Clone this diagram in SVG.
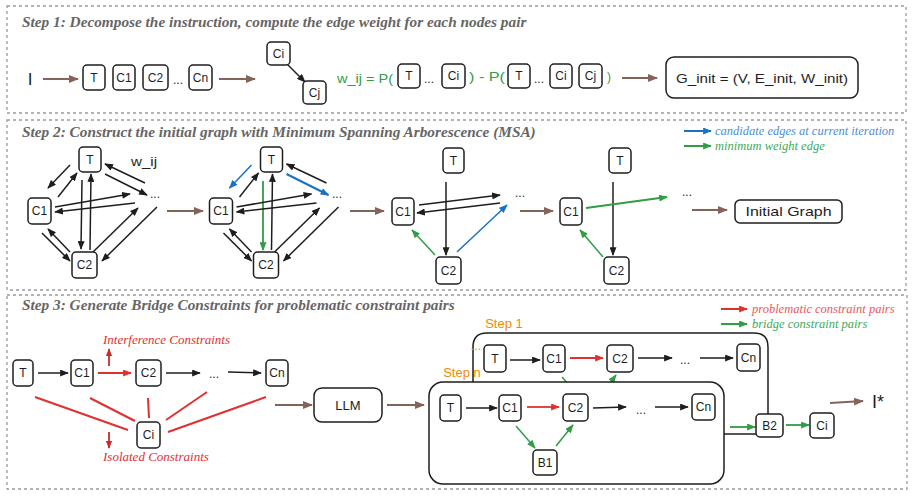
<svg xmlns="http://www.w3.org/2000/svg" width="914" height="498" viewBox="0 0 914 498">
<style>
.panel{fill:none;stroke:#9a9a9a;stroke-width:1.3;stroke-dasharray:3 3}
.title{font-family:"Liberation Serif",serif;font-weight:bold;font-style:italic;font-size:15.3px;fill:#666}
.n{fill:#fff;stroke:#1e1e1e;stroke-width:1.5}
.t{font-family:"Liberation Sans",sans-serif;font-size:12px;text-anchor:middle;dominant-baseline:central;fill:#1e1e1e}
.g{fill:#2f9e44}
.leg{font-family:"Liberation Serif",serif;font-style:italic;font-size:12.5px}
.or{font-family:"Liberation Sans",sans-serif;font-size:13px;fill:#f08c00}
.k{stroke:#1e1e1e;stroke-width:1.5;fill:none;marker-end:url(#mk)}
.br{stroke:#846358;stroke-width:2;fill:none;marker-end:url(#mbr)}
.gr{stroke:#2f9e44;stroke-width:1.5;fill:none;marker-end:url(#mgr)}
.bl{stroke:#1971c2;stroke-width:1.5;fill:none;marker-end:url(#mbl)}
.rd{stroke:#e03131;stroke-width:1.8;fill:none;marker-end:url(#mrd)}
.dr{stroke:#c92a2a;stroke-width:1.8;fill:none;marker-end:url(#mdr)}
.rl{stroke:#e03131;stroke-width:2;fill:none}
</style>
<defs>
<marker id="mk" viewBox="0 0 10 8" refX="9" refY="4" markerWidth="9" markerHeight="7" orient="auto" markerUnits="userSpaceOnUse"><path d="M0,0 L10,4 L0,8 z" fill="#1e1e1e"/></marker>
<marker id="mbr" viewBox="0 0 10 8" refX="9" refY="4" markerWidth="10" markerHeight="8" orient="auto" markerUnits="userSpaceOnUse"><path d="M0,0 L10,4 L0,8 z" fill="#846358"/></marker>
<marker id="mgr" viewBox="0 0 10 8" refX="9" refY="4" markerWidth="9" markerHeight="7" orient="auto" markerUnits="userSpaceOnUse"><path d="M0,0 L10,4 L0,8 z" fill="#2f9e44"/></marker>
<marker id="mbl" viewBox="0 0 10 8" refX="9" refY="4" markerWidth="9" markerHeight="7" orient="auto" markerUnits="userSpaceOnUse"><path d="M0,0 L10,4 L0,8 z" fill="#1971c2"/></marker>
<marker id="mrd" viewBox="0 0 10 8" refX="9" refY="4" markerWidth="9" markerHeight="7" orient="auto" markerUnits="userSpaceOnUse"><path d="M0,0 L10,4 L0,8 z" fill="#e03131"/></marker>
<marker id="mdr" viewBox="0 0 10 8" refX="9" refY="4" markerWidth="8" markerHeight="7" orient="auto" markerUnits="userSpaceOnUse"><path d="M0,0 L10,4 L0,8 z" fill="#c92a2a"/></marker>
</defs>
<rect width="914" height="498" fill="#fff"/>

<!-- panels -->
<rect class="panel" x="7" y="6" width="899" height="107"/>
<rect class="panel" x="7" y="120" width="899" height="170"/>
<rect class="panel" x="7" y="295" width="900" height="194"/>
<text class="title" x="22" y="27">Step 1: Decompose the instruction, compute the edge weight for each nodes pair</text>
<text class="title" x="22" y="137">Step 2: Construct the initial graph with Minimum Spanning Arborescence (MSA)</text>
<text class="title" x="22" y="310">Step 3: Generate Bridge Constraints for problematic constraint pairs</text>

<!-- connectors -->
<g id="connectors">
<!-- step 1 -->
<line class="br" x1="43" y1="79" x2="78" y2="79"/>
<line class="br" x1="219" y1="79" x2="255" y2="79"/>
<line class="br" x1="622" y1="78" x2="657" y2="78"/>
<line class="k" x1="287" y1="64" x2="305" y2="82"/>
<!-- step 2 graph 1 -->
<line class="k" x1="70" y1="165" x2="48" y2="188"/>
<line class="k" x1="58" y1="197" x2="77" y2="173"/>
<line class="k" x1="82" y1="180" x2="81" y2="249"/>
<line class="k" x1="90" y1="250" x2="91" y2="174"/>
<line class="k" x1="145" y1="183" x2="105" y2="164"/>
<line class="k" x1="105" y1="174" x2="147" y2="195"/>
<line class="k" x1="55" y1="207" x2="130" y2="194"/>
<line class="k" x1="135" y1="203" x2="55" y2="212"/>
<line class="k" x1="42" y1="233" x2="70" y2="261"/>
<line class="k" x1="70" y1="252" x2="48" y2="229"/>
<line class="k" x1="93" y1="252" x2="138" y2="208"/>
<line class="k" x1="157" y1="207" x2="102" y2="261"/>
<line class="br" x1="167" y1="211" x2="203" y2="211"/>
<!-- graph 2 -->
<line class="bl" x1="251.5" y1="165" x2="229.5" y2="188"/>
<line class="k" x1="239.5" y1="197" x2="258.5" y2="173"/>
<line class="gr" x1="263" y1="181" x2="263" y2="250" style="stroke-width:1.8"/>
<line class="k" x1="271.5" y1="250" x2="272.5" y2="174"/>
<line class="k" x1="326.5" y1="183" x2="286.5" y2="164"/>
<line class="bl" x1="286.5" y1="174" x2="328.5" y2="195" style="stroke-width:2"/>
<line class="k" x1="236.5" y1="207" x2="311.5" y2="194"/>
<line class="k" x1="316.5" y1="203" x2="236.5" y2="212"/>
<line class="k" x1="223.5" y1="233" x2="251.5" y2="261"/>
<line class="k" x1="251.5" y1="252" x2="229.5" y2="229"/>
<line class="k" x1="274.5" y1="252" x2="319.5" y2="208"/>
<line class="k" x1="338.5" y1="207" x2="283.5" y2="261"/>
<line class="br" x1="350" y1="211" x2="384" y2="211"/>
<!-- graph 3 -->
<line class="k" x1="446" y1="182" x2="446" y2="255"/>
<line class="k" x1="419" y1="205" x2="500" y2="195"/>
<line class="k" x1="500" y1="203" x2="417" y2="213"/>
<line class="gr" x1="435" y1="255" x2="412" y2="230"/>
<line class="bl" x1="457" y1="252" x2="507" y2="205"/>
<line class="br" x1="520" y1="211" x2="553" y2="211"/>
<!-- graph 4 -->
<line class="k" x1="613" y1="182" x2="613" y2="255"/>
<line class="gr" x1="603" y1="257" x2="580" y2="230"/>
<line class="gr" x1="586" y1="208" x2="667" y2="197" style="stroke-width:2.2"/>
<line class="br" x1="692" y1="210" x2="727" y2="210"/>
<!-- step 2 legend -->
<line class="bl" x1="684" y1="131" x2="711" y2="131" style="stroke-width:2"/>
<line class="gr" x1="684" y1="146" x2="711" y2="146" style="stroke-width:2"/>
<!-- step 3 left -->
<line class="k" x1="38" y1="373" x2="68" y2="373"/>
<line class="rd" x1="98" y1="373" x2="131" y2="373"/>
<line class="k" x1="166" y1="373" x2="200" y2="373"/>
<line class="k" x1="228" y1="372" x2="261" y2="373"/>
<line class="dr" x1="109" y1="366" x2="109" y2="349"/>
<line class="dr" x1="109" y1="432" x2="109" y2="448"/>
<line class="rl" x1="35" y1="397" x2="128" y2="430"/>
<line class="rl" x1="90" y1="398" x2="135" y2="421"/>
<line class="rl" x1="148" y1="398" x2="149" y2="418"/>
<line class="rl" x1="207" y1="392" x2="166" y2="420"/>
<line class="rl" x1="266" y1="397" x2="168" y2="432"/>
<line class="br" x1="275" y1="405" x2="312" y2="405"/>
<line class="br" x1="387" y1="405" x2="424" y2="405"/>
<!-- step 3 legend -->
<line class="rd" x1="721" y1="309" x2="747" y2="309" style="stroke-width:2"/>
<line class="gr" x1="721" y1="324" x2="747" y2="324" style="stroke-width:2"/>
</g>

<!-- Step 1 nodes -->
<g id="s1-I"><text x="30" y="79" class="t" style="font-size:17px">I</text></g>
<g id="s1-T"><rect class="n" x="83" y="65" width="22" height="25" rx="4"/><text class="t" x="94" y="77.5">T</text></g>
<g id="s1-C1"><rect class="n" x="113" y="65" width="22" height="25" rx="4"/><text class="t" x="124" y="77.5">C1</text></g>
<g id="s1-C2"><rect class="n" x="143" y="65" width="25" height="25" rx="4"/><text class="t" x="155.5" y="77.5">C2</text></g>
<g id="s1-dots"><text class="t" x="178" y="80">...</text></g>
<g id="s1-Cn"><rect class="n" x="189" y="65" width="23" height="25" rx="4"/><text class="t" x="200.5" y="77.5">Cn</text></g>
<g id="s1-Ci"><rect class="n" x="267" y="42" width="23" height="23" rx="4"/><text class="t" x="278.5" y="53.5">Ci</text></g>
<g id="s1-Cj"><rect class="n" x="303" y="81" width="23" height="23" rx="4"/><text class="t" x="314.5" y="92.5">Cj</text></g>
<g id="s1-formula">
<text x="337" y="79" class="t g" style="text-anchor:start" textLength="56" lengthAdjust="spacingAndGlyphs">w_ij = P(</text>
<rect class="n" x="398" y="64" width="22" height="24" rx="4"/><text class="t" x="409" y="76">T</text>
<text class="t" x="429" y="79">...</text>
<rect class="n" x="442" y="64" width="23" height="24" rx="4"/><text class="t" x="453.5" y="76">Ci</text>
<text x="469" y="77" class="t g" style="text-anchor:start" textLength="36" lengthAdjust="spacingAndGlyphs">) - P(</text>
<rect class="n" x="508" y="64" width="22" height="24" rx="4"/><text class="t" x="519" y="76">T</text>
<text class="t" x="539" y="79">...</text>
<rect class="n" x="550" y="64" width="22" height="24" rx="4"/><text class="t" x="561" y="76">Ci</text>
<rect class="n" x="579" y="64" width="23" height="24" rx="4"/><text class="t" x="590.5" y="76">Cj</text>
<text x="609" y="77" class="t g">)</text>
</g>
<g id="s1-Ginit"><rect class="n" x="666" y="57" width="192" height="41" rx="8"/><text class="t" x="762" y="78" style="font-size:13px" textLength="172" lengthAdjust="spacingAndGlyphs">G_init = (V, E_init, W_init)</text></g>

<!-- Step 2 graph 1 -->
<g id="g1-T"><rect class="n" x="79" y="147" width="22" height="25" rx="4"/><text class="t" x="90" y="159.5">T</text></g>
<g id="g1-C1"><rect class="n" x="28" y="198" width="23" height="26" rx="4"/><text class="t" x="39.5" y="211">C1</text></g>
<g id="g1-C2"><rect class="n" x="72" y="252" width="25" height="26" rx="4"/><text class="t" x="84.5" y="265">C2</text></g>
<g id="g1-dots"><text class="t" x="155" y="194">...</text></g>
<g id="g1-w"><text class="t" x="144" y="162" textLength="26" lengthAdjust="spacingAndGlyphs">w_ij</text></g>
<!-- graph 2 -->
<g id="g2-T"><rect class="n" x="260.5" y="147" width="22" height="25" rx="4"/><text class="t" x="271.5" y="159.5">T</text></g>
<g id="g2-C1"><rect class="n" x="209.5" y="198" width="23" height="26" rx="4"/><text class="t" x="221" y="211">C1</text></g>
<g id="g2-C2"><rect class="n" x="253.5" y="252" width="25" height="26" rx="4"/><text class="t" x="266" y="265">C2</text></g>
<g id="g2-dots"><text class="t" x="337" y="194">...</text></g>
<!-- graph 3 -->
<g id="g3-T"><rect class="n" x="443" y="148" width="21" height="25" rx="4"/><text class="t" x="453.5" y="160.5">T</text></g>
<g id="g3-C1"><rect class="n" x="392" y="198" width="22" height="27" rx="4"/><text class="t" x="403" y="211.5">C1</text></g>
<g id="g3-C2"><rect class="n" x="436" y="257" width="25" height="27" rx="4"/><text class="t" x="448.5" y="270.5">C2</text></g>
<g id="g3-dots"><text class="t" x="520" y="193">...</text></g>
<!-- graph 4 -->
<g id="g4-T"><rect class="n" x="609" y="148" width="22" height="25" rx="4"/><text class="t" x="620" y="160.5">T</text></g>
<g id="g4-C1"><rect class="n" x="560" y="198" width="22" height="27" rx="4"/><text class="t" x="571" y="211.5">C1</text></g>
<g id="g4-C2"><rect class="n" x="604" y="257" width="25" height="27" rx="4"/><text class="t" x="616.5" y="270.5">C2</text></g>
<g id="g4-dots"><text class="t" x="687" y="192">...</text></g>
<g id="initial-graph"><rect class="n" x="735" y="200" width="107" height="23" rx="5"/><text class="t" x="788.5" y="211.5" style="font-size:13px" textLength="86" lengthAdjust="spacingAndGlyphs">Initial Graph</text></g>
<g id="legend2">
<text class="leg" x="715" y="135" fill="#4a8fd6">candidate edges at current iteration</text>
<text class="leg" x="715" y="150" fill="#40a957">minimum weight edge</text>
</g>

<!-- Step 3 left -->
<g id="s3-T"><rect class="n" x="13" y="360" width="20" height="26" rx="4"/><text class="t" x="23" y="373">T</text></g>
<g id="s3-C1"><rect class="n" x="71" y="360" width="22" height="26" rx="4"/><text class="t" x="82" y="373">C1</text></g>
<g id="s3-C2"><rect class="n" x="136" y="360" width="25" height="26" rx="4"/><text class="t" x="148.5" y="373">C2</text></g>
<g id="s3-dots"><text class="t" x="214" y="374">...</text></g>
<g id="s3-Cn"><rect class="n" x="266" y="360" width="22" height="26" rx="4"/><text class="t" x="277" y="373">Cn</text></g>
<g id="s3-Ci"><rect class="n" x="137" y="422" width="23" height="26" rx="4"/><text class="t" x="148.5" y="435">Ci</text></g>
<g id="s3-labels">
<text class="leg" x="103" y="344" fill="#e03131" style="font-size:13px">Interference Constraints</text>
<text class="leg" x="103" y="461" fill="#e03131" style="font-size:13px">Isolated Constraints</text>
</g>
<g id="s3-LLM"><rect class="n" x="314" y="388" width="68" height="34" rx="8"/><text class="t" x="348" y="405" style="font-size:13px">LLM</text></g>

<!-- Step 1 box (behind) -->
<g id="step1-box">
<path d="M473,382 V347 Q473,333 487,333 H754 Q768,333 768,347 V414" fill="none" stroke="#1e1e1e" stroke-width="1.5"/>
<text class="or" x="504" y="328" text-anchor="middle">Step 1</text>
<text class="or" x="476" y="350" text-anchor="middle">...</text>
<line class="gr" x1="562" y1="377" x2="582" y2="400"/>
<line class="gr" x1="600" y1="397" x2="616" y2="375"/>
<line class="k" x1="510" y1="360" x2="540" y2="360"/>
<line class="rd" x1="570" y1="358" x2="603" y2="358"/>
<line class="k" x1="638" y1="358" x2="672" y2="358"/>
<line class="k" x1="700" y1="358" x2="733" y2="358"/>
<g id="b1-T"><rect class="n" x="484" y="345" width="22" height="27" rx="4"/><text class="t" x="495" y="358.5">T</text></g>
<g id="b1-C1"><rect class="n" x="543" y="345" width="22" height="27" rx="4"/><text class="t" x="554" y="358.5">C1</text></g>
<g id="b1-C2"><rect class="n" x="607" y="345" width="26" height="27" rx="4"/><text class="t" x="620" y="358.5">C2</text></g>
<g id="b1-dots"><text class="t" x="685" y="360">...</text></g>
<g id="b1-Cn"><rect class="n" x="737" y="344" width="23" height="27" rx="4"/><text class="t" x="748.5" y="357.5">Cn</text></g>
</g>

<!-- Step n box -->
<g id="stepn-box">
<rect x="429" y="382" width="295" height="102" rx="14" fill="#fff" stroke="#1e1e1e" stroke-width="1.5"/>
<text class="or" x="462" y="377" text-anchor="middle">Step n</text>
<line class="k" x1="466" y1="408" x2="497" y2="408"/>
<line class="rd" x1="527" y1="407" x2="559" y2="407"/>
<line class="k" x1="593" y1="408" x2="626" y2="407"/>
<line class="k" x1="655" y1="407" x2="688" y2="407"/>
<line class="gr" x1="516" y1="426" x2="535" y2="448"/>
<line class="gr" x1="556" y1="446" x2="573" y2="425"/>
<g id="bn-T"><rect class="n" x="440" y="395" width="21" height="26" rx="4"/><text class="t" x="450.5" y="408">T</text></g>
<g id="bn-C1"><rect class="n" x="499" y="395" width="22" height="26" rx="4"/><text class="t" x="510" y="408">C1</text></g>
<g id="bn-C2"><rect class="n" x="563" y="394" width="25" height="27" rx="4"/><text class="t" x="575.5" y="407.5">C2</text></g>
<g id="bn-dots"><text class="t" x="641" y="410">...</text></g>
<g id="bn-Cn"><rect class="n" x="692" y="394" width="23" height="26" rx="4"/><text class="t" x="703.5" y="407">Cn</text></g>
<g id="bn-B1"><rect class="n" x="533" y="450" width="24" height="25" rx="4"/><text class="t" x="545" y="462.5">B1</text></g>
</g>

<g id="s3-right-connectors">
<line x1="724" y1="434" x2="756" y2="434" stroke="#1e1e1e" stroke-width="1.5"/>
<line class="gr" x1="730" y1="427" x2="755" y2="427" style="stroke-width:1.8"/>
<line class="gr" x1="786" y1="425" x2="809" y2="425" style="stroke-width:1.8"/>
<line class="br" x1="830" y1="403" x2="863" y2="401"/>
</g>
<g id="s3-B2"><rect class="n" x="756" y="414" width="27" height="23" rx="4"/><text class="t" x="769.5" y="425.5">B2</text></g>
<g id="s3-Ci2"><rect class="n" x="810" y="413" width="24" height="25" rx="4"/><text class="t" x="822" y="425.5">Ci</text></g>
<g id="s3-Istar"><text class="t" x="878" y="402" style="font-size:18px">I*</text></g>
<g id="legend3">
<text class="leg" x="752" y="313" fill="#e8595a">problematic constraint pairs</text>
<text class="leg" x="752" y="328" fill="#40a957">bridge constraint pairs</text>
</g>
</svg>
